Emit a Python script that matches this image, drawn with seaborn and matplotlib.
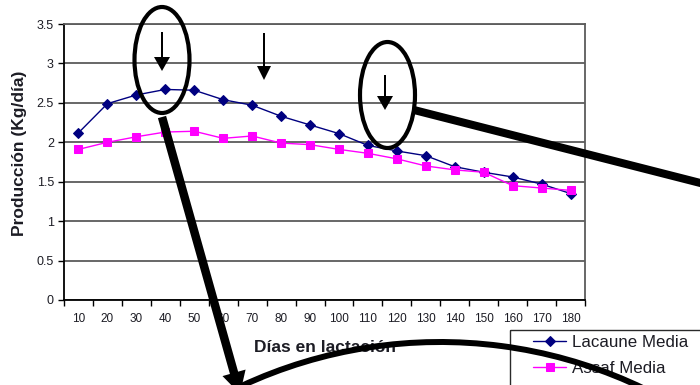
import numpy as np
import matplotlib
matplotlib.use("Agg")
import matplotlib.pyplot as plt
import seaborn as sns
from matplotlib.patches import Ellipse, Arc, FancyArrow, Rectangle

# Daily milk yield by days in milk
dias = [10, 20, 30, 40, 50, 60, 70, 80, 90, 100, 110, 120, 130, 140, 150, 160, 170, 180]
lacaune = [2.12, 2.49, 2.60, 2.67, 2.66, 2.54, 2.47, 2.33, 2.22, 2.11, 1.96, 1.89,
           1.83, 1.69, 1.62, 1.56, 1.47, 1.35]
assaf = [1.91, 2.00, 2.07, 2.13, 2.14, 2.05, 2.08, 1.99, 1.97, 1.91, 1.86, 1.79,
         1.70, 1.65, 1.62, 1.45, 1.42, 1.39]
series_names = ["Lacaune Media", "Assaf Media"]
y_ticks = [0, 0.5, 1, 1.5, 2, 2.5, 3, 3.5]
y_tick_labels = ["0", "0.5", "1", "1.5", "2", "2.5", "3", "3.5"]

NAVY = "#000080"
MAGENTA = "#ff00ff"
GRID = "#5c5c5c"
TEXT = "#1c1c24"

sns.set_style("white")
plt.rcParams["font.family"] = ["Liberation Sans", "DejaVu Sans"]

W, H = 700, 385
fig = plt.figure(figsize=(W / 100, H / 100), dpi=100)
ax = fig.add_axes([64 / W, 1 - 300 / H, (585 - 64) / W, 276 / H])

pos = np.arange(len(dias))
sns.lineplot(x=pos, y=lacaune, ax=ax, color=NAVY, marker="D", markersize=5.2,
             markeredgecolor=NAVY, linewidth=1.0, label=series_names[0], zorder=3)
sns.lineplot(x=pos, y=assaf, ax=ax, color=MAGENTA, marker="s", markersize=6.2,
             markeredgecolor=MAGENTA, linewidth=1.0, label=series_names[1], zorder=4)

ax.set_xlim(-0.5, len(dias) - 0.5)
ax.set_ylim(y_ticks[0], y_ticks[-1])
ax.set_yticks(y_ticks)
ax.set_yticklabels(y_tick_labels)
ax.set_xticks(pos)
ax.set_xticklabels([str(d) for d in dias])
ax.set_xticks(np.arange(-0.5, len(dias), 1.0), minor=True)

ax.yaxis.grid(True, color=GRID, linewidth=1.3)
ax.xaxis.grid(False)
ax.set_axisbelow(True)
for side in ("left", "bottom"):
    ax.spines[side].set_color("black")
    ax.spines[side].set_linewidth(1.3)
for side in ("right", "top"):
    ax.spines[side].set_color(GRID)
    ax.spines[side].set_linewidth(1.3)

ax.tick_params(axis="y", which="major", left=True, length=4.3, width=1.0,
               color="black", pad=3, labelsize=9, labelcolor=TEXT)
ax.tick_params(axis="x", which="major", bottom=True, length=0, pad=9,
               labelsize=8.5, labelcolor=TEXT)
ax.tick_params(axis="x", which="minor", bottom=True, length=4.3, width=1.0,
               color="black")

ax.set_ylabel("Producción (Kg/día)", fontsize=12.5, fontweight="bold",
              color=TEXT, va="center")
ax.yaxis.set_label_coords(-0.085, 0.533)
ax.set_xlabel("Días en lactación", fontsize=12.5, fontweight="bold",
              color=TEXT, va="center")
ax.xaxis.set_label_coords(0.5, (300 - 347) / 276)

leg = ax.legend(loc="upper left", bbox_to_anchor=(533 / W, 1 - 335 / H),
                bbox_transform=fig.transFigure, frameon=False, fontsize=12.2,
                borderpad=0, borderaxespad=0, handlelength=1.95,
                handletextpad=0.35, labelspacing=0.65)
for t in leg.get_texts():
    t.set_color(TEXT)

# Hand-drawn callouts on top of the chart, in pixel units
ov = fig.add_axes([0, 0, 1, 1], zorder=10)
ov.set_xlim(0, W)
ov.set_ylim(H, 0)
ov.axis("off")
ov.patch.set_alpha(0)

ov.add_patch(Rectangle((510, 330), 230, 90, fill=False, ec="#2a2a2a", lw=1.0, zorder=1))

ov.add_patch(Ellipse((162, 60), 55, 106, fill=False, ec="black", lw=3.0, zorder=2))
ov.add_patch(Ellipse((387.5, 95), 55, 106, fill=False, ec="black", lw=3.0, zorder=2))

for x, y0, y1, hw in [(162, 32, 71, 16), (264, 33, 80, 14), (385, 75, 110, 16)]:
    ov.add_patch(FancyArrow(x, y0, 0, y1 - y0, width=2, head_width=hw, head_length=14,
                            length_includes_head=True, color="black", lw=0, zorder=3))

ov.plot([414, 720], [110, 188], color="black", lw=5.8, solid_capstyle="butt", zorder=3)
ov.add_patch(FancyArrow(162, 117, 240 - 162, 394 - 117, width=8.5, head_width=24,
                        head_length=22, length_includes_head=True, color="black",
                        lw=0, zorder=3))
ov.add_patch(Arc((440, 342 + 470), 940, 940, theta1=245, theta2=310,
                 color="black", lw=4.3, zorder=3))

fig.savefig("out.png", dpi=100)
